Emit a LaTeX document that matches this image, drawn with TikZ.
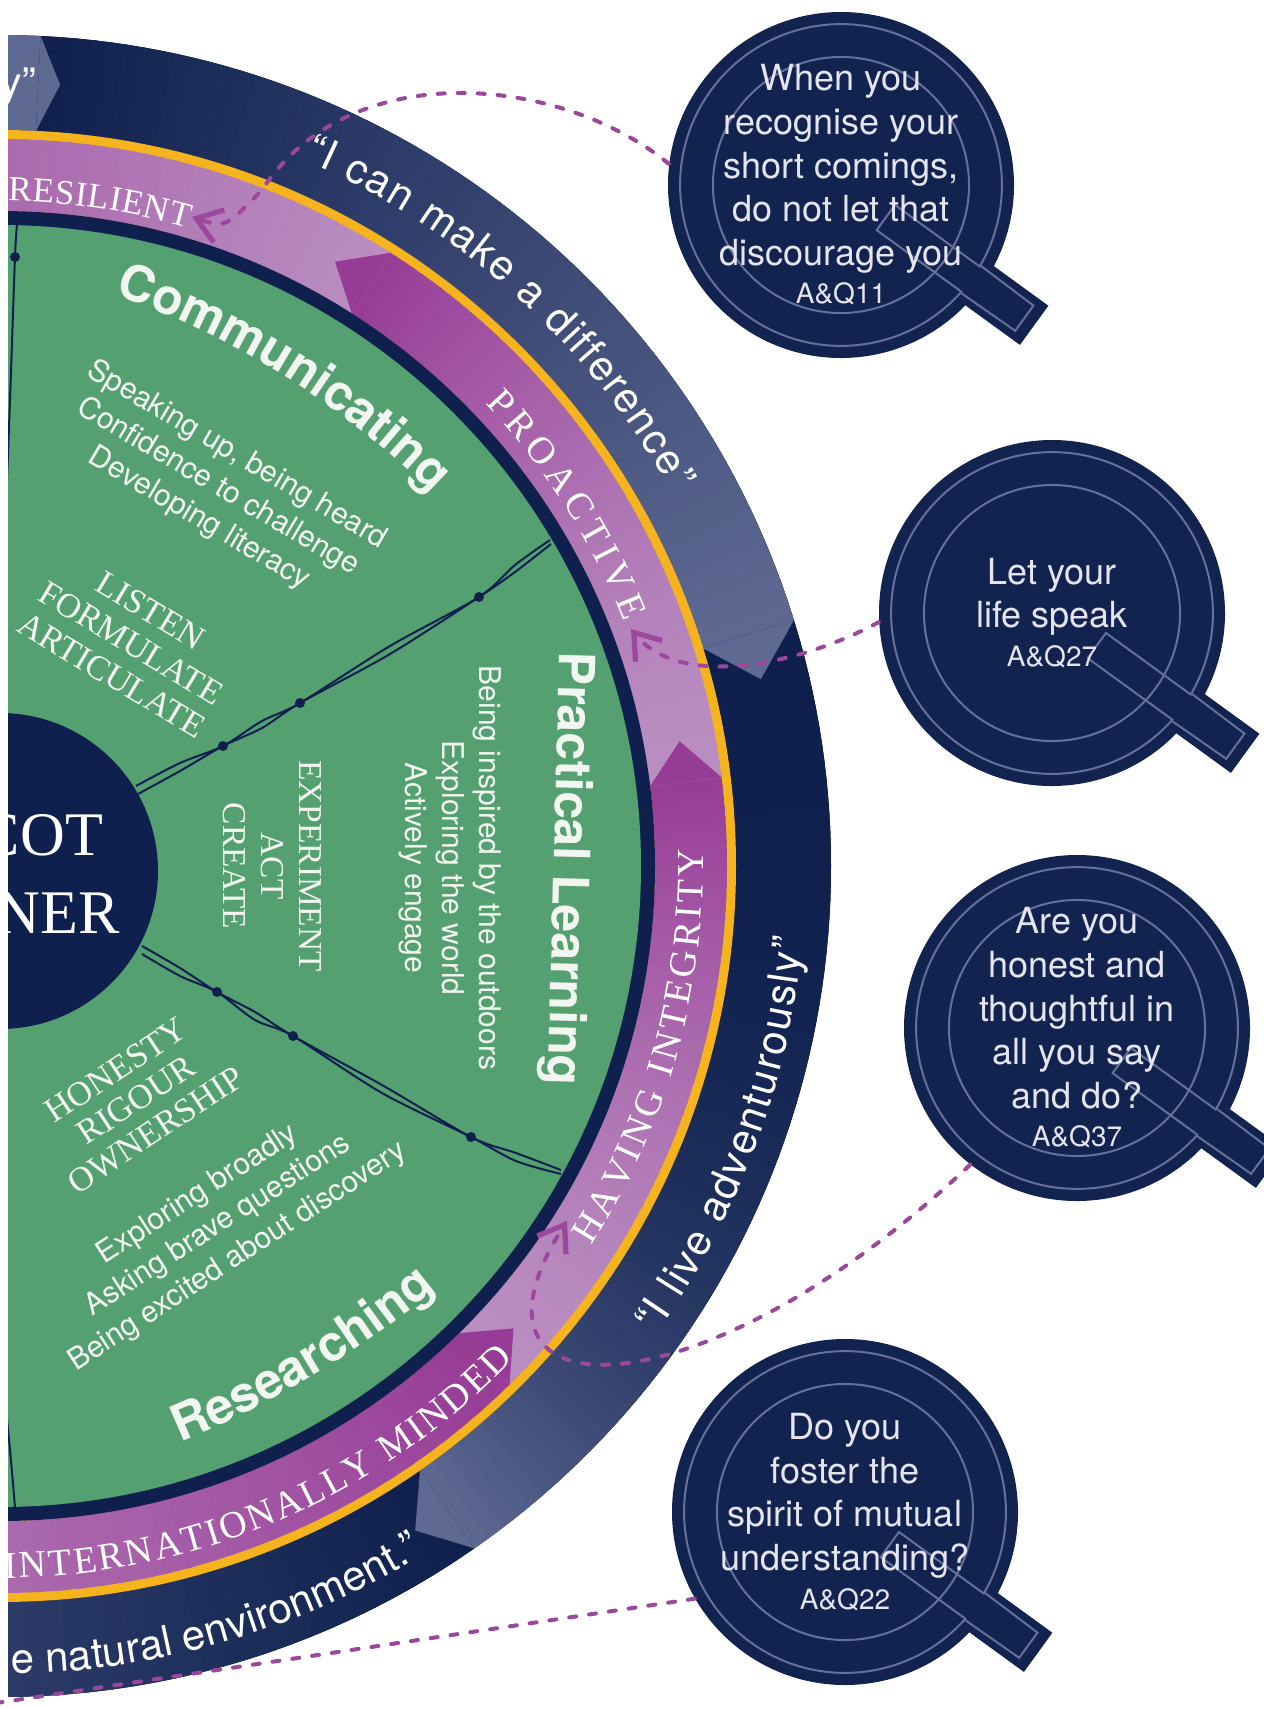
\documentclass[tikz,border=0pt]{standalone}
\usepackage{fontspec}
\setsansfont{TeX Gyre Heros}
\newfontfamily\capserif{Liberation Serif}
\usepackage{tikz}
\usetikzlibrary{arrows.meta,decorations.text}

\definecolor{ringnavy}{HTML}{0F204E}
\definecolor{slate}{HTML}{5E6A92}
\definecolor{ringyellow}{HTML}{F5B31E}
\definecolor{purplelight}{HTML}{BA8EC1}
\definecolor{purpledark}{HTML}{973C96}
\definecolor{leafgreen}{HTML}{55A070}
\definecolor{linkpurple}{HTML}{9B479B}
\definecolor{qnavy}{HTML}{13234F}
\definecolor{qedge}{HTML}{66719B}
\definecolor{qtext}{HTML}{E4E5EE}
\definecolor{chalk}{HTML}{F2F6F1}

\newcommand{\ringsans}{\sffamily\fontsize{21}{24}\selectfont\color{white}}
\newcommand{\ringserif}{\capserif\fontsize{19}{21}\selectfont\color{white}}
\newcommand{\ringserifsmall}{\capserif\fontsize{17.5}{20}\selectfont\color{white}}
\newcommand{\headsans}{\sffamily\bfseries\fontsize{25}{28}\selectfont\color{chalk}}

% band piece shaded from #5 to #6
\newcommand{\ringseg}[7]{%
  \foreach \segk in {0,...,59}{%
    \pgfmathsetmacro{\angA}{(#3)+((#4)-(#3))*\segk/60}%
    \pgfmathsetmacro{\angB}{(#3)+((#4)-(#3))*(\segk+1.4)/60}%
    \pgfmathsetmacro{\mixpc}{100*((\segk+0.5)/60)^#7}%
    \fill[#6!\mixpc!#5] (\angA:#1) arc[start angle=\angA, end angle=\angB, radius=#1]
      -- (\angB:#2) arc[start angle=\angB, end angle=\angA, radius=#2] -- cycle;
  }%
}
\newcommand{\segtip}[5]{\fill[#5] (#3:#1) -- (#4:{(#1+#2)/2}) -- (#3:#2) -- cycle;}
\newcommand{\ringtext}[4]{%
  \path[decorate, decoration={text along path, text align={fit to path}, text={#4}}]
    (#2:#1) arc[start angle=#2, end angle=#3, radius=#1];}
\newcommand{\headtext}[4]{%
  \path[decorate, decoration={text along path, text align=center, text={#4}}]
    (#2:#1) arc[start angle=#2, end angle=#3, radius=#1];}

\newcommand{\qr}{173}
\newcommand{\qbubble}[3]{%
  \begin{scope}[shift={(#2)}, rotate=-36]
    \fill[qnavy] (0.45*\qr,-0.14*\qr) rectangle (1.38*\qr,0.14*\qr);
    \fill[qnavy] (0,0) circle[radius=\qr];
    \draw[qoutline] (6:0.93*\qr) arc[start angle=6, end angle=354, radius=0.93*\qr]
      -- (1.31*\qr,-0.09*\qr) -- (1.31*\qr,0.09*\qr) -- cycle;
    \draw[qoutline] (0,0) circle[radius=0.74*\qr];
    \draw[qoutline] (0.93*\qr,0.09*\qr) -- (0.32*\qr,0.09*\qr) -- (0.32*\qr,-0.09*\qr) -- (0.93*\qr,-0.09*\qr);
  \end{scope}
  \node[qbub] (#1) at (#2) {#3};%
}

\tikzset{
  qbub/.style={circle, minimum size=173pt, inner sep=0pt, text=qtext, align=center,
    font=\sffamily\fontsize{18}{21.8}\selectfont},
  qoutline/.style={draw=qedge, line width=1pt},
  qlink/.style={linkpurple, line width=2pt, line cap=round, dash pattern=on 3.5pt off 6.5pt},
  linktip/.style={-{Straight Barb[length=12pt,width=17pt,line width=2.6pt]}},
  spoke/.style={ringnavy, line width=1pt},
  greensans/.style={text=chalk, align=center, font=\sffamily\fontsize{15}{18.5}\selectfont},
  greenserif/.style={text=chalk, align=center, font=\capserif\fontsize{17.3}{18.8}\selectfont},
  headnode/.style={text=chalk, font=\sffamily\bfseries\fontsize{25}{28}\selectfont},
  hubtext/.style={text=white, font=\capserif\fontsize{31}{31}\selectfont},
}

\begin{document}
\begin{tikzpicture}[x=0.5pt, y=0.5pt]
  \fill[white] (0,0) rectangle (1264,-1709);
  \useasboundingbox (0,0) rectangle (1264,-1709);

  \begin{scope}
    \clip (8,0) rectangle (1264,-1709);
    \begin{scope}[shift={(0,-866)}]
      % outer band
      \fill[ringnavy] (0,0) circle[radius=831];
      \ringseg{736}{831}{100}{87.2}{slate}{slate}{1}
      \ringseg{736}{831}{87.2}{17.2}{ringnavy}{slate}{1}
      \ringseg{736}{831}{17.2}{-55.2}{ringnavy}{slate}{3}
      \ringseg{736}{831}{-55.2}{-150}{ringnavy}{slate}{1}
      \segtip{736}{831}{87.2}{85.6}{slate}
      \segtip{736}{831}{17.2}{13.8}{slate}
      \segtip{736}{831}{-55.2}{-58}{slate}
      \fill[ringyellow] (0,0) circle[radius=736];
      % values band
      \ringseg{655}{727}{-150}{-45.5}{purplelight}{purpledark}{1.5}
      \ringseg{655}{727}{-45.5}{7}{purplelight}{purpledark}{1.5}
      \ringseg{655}{727}{7}{57.5}{purplelight}{purpledark}{1.5}
      \ringseg{655}{727}{57.5}{130}{purplelight}{purpledark}{1}
      \segtip{655}{727}{-45.5}{-42}{purpledark}
      \segtip{655}{727}{7}{10.4}{purpledark}
      \segtip{655}{727}{57.5}{61}{purpledark}
      \fill[ringnavy] (0,0) circle[radius=655];
      \fill[leafgreen] (0,0) circle[radius=641];
      % band words
      \ringtext{769}{66.7}{29.1}{|\ringsans|“I can make a difference”}
      \ringtext{806}{-35.5}{-5.1}{|\ringsans|“I live adventurously”}
      \ringtext{808}{-89.2}{-58.4}{|\ringsans|e natural environment.”}
      \ringtext{665}{89.3}{73.6}{|\ringserifsmall|RESILIENT}
      \ringtext{670}{43.6}{21.4}{|\ringserif|PROACTIVE}
      \ringtext{703}{-32.7}{1.4}{|\ringserif|HAVING INTEGRITY}
      \ringtext{712}{-89.6}{-43.8}{|\ringserif|INTERNATIONALLY MINDED}
    \end{scope}
    \node[text=white, font=\sffamily\fontsize{21}{24}\selectfont, anchor=base, rotate=-1.5] (yQuote) at (18,-97) {y”};

    % spokes
    \draw[spoke] plot[smooth] coordinates {(136,-786) (180,-763) (223,-746) (262,-721) (300,-703) (390,-646) (479,-597) (515,-565) (550,-540)};
    \draw[spoke] plot[smooth] coordinates {(138,-794) (180,-771) (223,-746) (262,-728) (300,-703) (390,-654) (479,-597) (515,-572) (551,-544)};
    \draw[spoke] plot[smooth] coordinates {(142,-946) (180,-968) (217,-992) (255,-1012) (293,-1036) (382,-1085) (471,-1137) (516,-1153) (561,-1170)};
    \draw[spoke] plot[smooth] coordinates {(142,-954) (180,-976) (217,-992) (255,-1020) (293,-1036) (382,-1093) (471,-1137) (516,-1161) (561,-1174)};
    \draw[spoke] plot[smooth] coordinates {(17,-225) (15,-257) (10,-400) (4,-560)};
    \draw[spoke] plot[smooth] coordinates {(3,-1380) (10,-1450) (16,-1519)};
    \foreach \p in {(223,-746),(300,-703),(479,-597),(217,-992),(293,-1036),(471,-1137),(15,-257)}
      \fill[ringnavy] \p circle[radius=5];

    % hub
    \fill[ringnavy] (0,-871) circle[radius=158];
    \node[hubtext, anchor=base east] (hubTop) at (110,-855) {COT};
    \node[hubtext, anchor=base east] (hubBottom) at (127,-933) {NER};

    % sector words
    \begin{scope}[shift={(-166,-1097)}]
      \headtext{850}{78}{38}{|\headsans|Communicating}
    \end{scope}
    \begin{scope}[shift={(-201,-518)}]
      \headtext{1000}{-75}{-43}{|\headsans|Researching}
    \end{scope}
    \node[headnode, rotate=-91.5] (practicalText) at (567,-869) {Practical Learning};
    \node[greensans, rotate=-30.5] (speakText) at (218,-487) {Speaking up, being heard\\Confidence to challenge\\Developing literacy};
    \node[greenserif, rotate=-31] (listenText) at (131,-643) {LISTEN\\FORMULATE\\ARTICULATE};
    \node[greenserif, rotate=-90, font=\capserif\fontsize{16.7}{19}\selectfont] (actText) at (272,-866) {EXPERIMENT\\ACT\\CREATE};
    \node[greensans, rotate=-90] (outdoorText) at (450,-868) {Being inspired by the outdoors\\Exploring the world\\Actively engage};
    \node[greenserif, rotate=33.5, font=\capserif\fontsize{17.3}{18}\selectfont] (honestyText) at (136,-1100) {HONESTY\\RIGOUR\\OWNERSHIP};
    \node[greensans, rotate=33] (exploreText) at (218,-1226) {Exploring broadly\\Asking brave questions\\Being excited about discovery};
  \end{scope}

  % question bubbles
  \qbubble{q11}{841,-185}{When you\\recognise your\\short comings,\\do not let that\\discourage you\\[-2.5pt]{\fontsize{14}{16}\selectfont A\&Q11}}
  \qbubble{q27}{1052,-613}{Let your\\life speak\\[-2.5pt]{\fontsize{14}{16}\selectfont A\&Q27}}
  \qbubble{q37}{1077,-1028}{Are you\\honest and\\thoughtful in\\all you say\\and do?\\[-2.5pt]{\fontsize{14}{16}\selectfont A\&Q37}}
  \qbubble{q22}{845,-1512}{Do you\\foster the\\spirit of mutual\\understanding?\\[-2.5pt]{\fontsize{14}{16}\selectfont A\&Q22}}

  % links
  \coordinate (resBend) at (262,-190);
  \coordinate (resTip) at (192,-217);
  \coordinate (proTip) at (631,-629);
  \coordinate (havTip) at (567,-1221);
  \coordinate (envEnd) at (-4,-1703);
  \draw[qlink, linktip] (q11.173) .. controls (560,-75) and (350,-55) .. (resBend) .. controls (225,-228) .. (resTip);
  \draw[qlink, linktip] (q27.183) .. controls (800,-665) and (680,-690) .. (proTip);
  \draw[qlink, linktip] (q37.232) .. controls (700,-1420) and (440,-1420) .. (havTip);
  \draw[qlink] (q22.210) -- (envEnd);
\end{tikzpicture}
\end{document}
